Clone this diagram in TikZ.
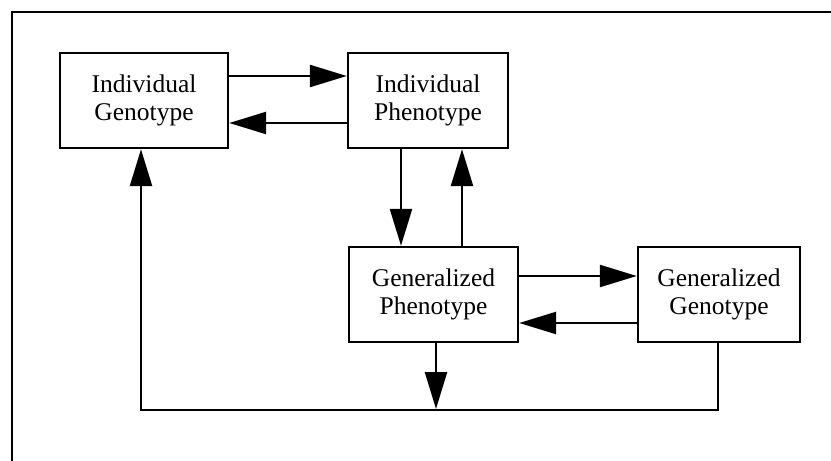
\documentclass[tikz,border=0pt]{standalone}
\usepackage{fontspec}
\setmainfont{Liberation Serif}
\usetikzlibrary{arrows.meta}
\tikzset{
  box/.style={draw, line width=2.4pt, align=center, inner sep=0pt,
    font=\fontsize{25.5}{28}\selectfont},
  arr/.style={line width=2.4pt, -{Triangle[length=37pt,width=22pt]}},
  plain/.style={line width=2.4pt, line join=miter}
}
\begin{document}
\begin{tikzpicture}[x=1pt,y=-1pt]
\useasboundingbox (0,0) rectangle (831,461);
\draw[plain] (12,461) -- (12,12) -- (831,12);
\node[box, minimum width=168pt, minimum height=95pt] (ig) at (144,100.5) {Individual\\Genotype};
\node[box, minimum width=160pt, minimum height=95pt] (ip) at (428,100.5) {Individual\\Phenotype};
\node[box, minimum width=169pt, minimum height=95pt] (gp) at (433.5,294.5) {Generalized\\Phenotype};
\node[box, minimum width=162pt, minimum height=95pt] (gg) at (719,294.5) {Generalized\\Genotype};
% horizontal arrows
\draw[arr] (ig.east |- 0,76) -- (ip.west |- 0,76);
\draw[arr] (ip.west |- 0,123) -- (ig.east |- 0,123);
\draw[arr] (gp.east |- 0,276) -- (gg.west |- 0,276);
\draw[arr] (gg.west |- 0,323) -- (gp.east |- 0,323);
% vertical arrows
\draw[arr] (ip.south -| 401,0) -- (gp.north -| 401,0);
\draw[arr] (gp.north -| 462,0) -- (ip.south -| 462,0);
% bottom loop
\coordinate (loopR) at (718,410);
\coordinate (loopL) at (141,410);
\draw[arr, line join=miter] (gg.south -| 718,0) -- (loopR) -- (loopL) -- (ig.south -| 141,0);
\coordinate (gpin) at (436,409);
\draw[arr] (gp.south -| 436,0) -- (gpin);
\end{tikzpicture}
\end{document}
